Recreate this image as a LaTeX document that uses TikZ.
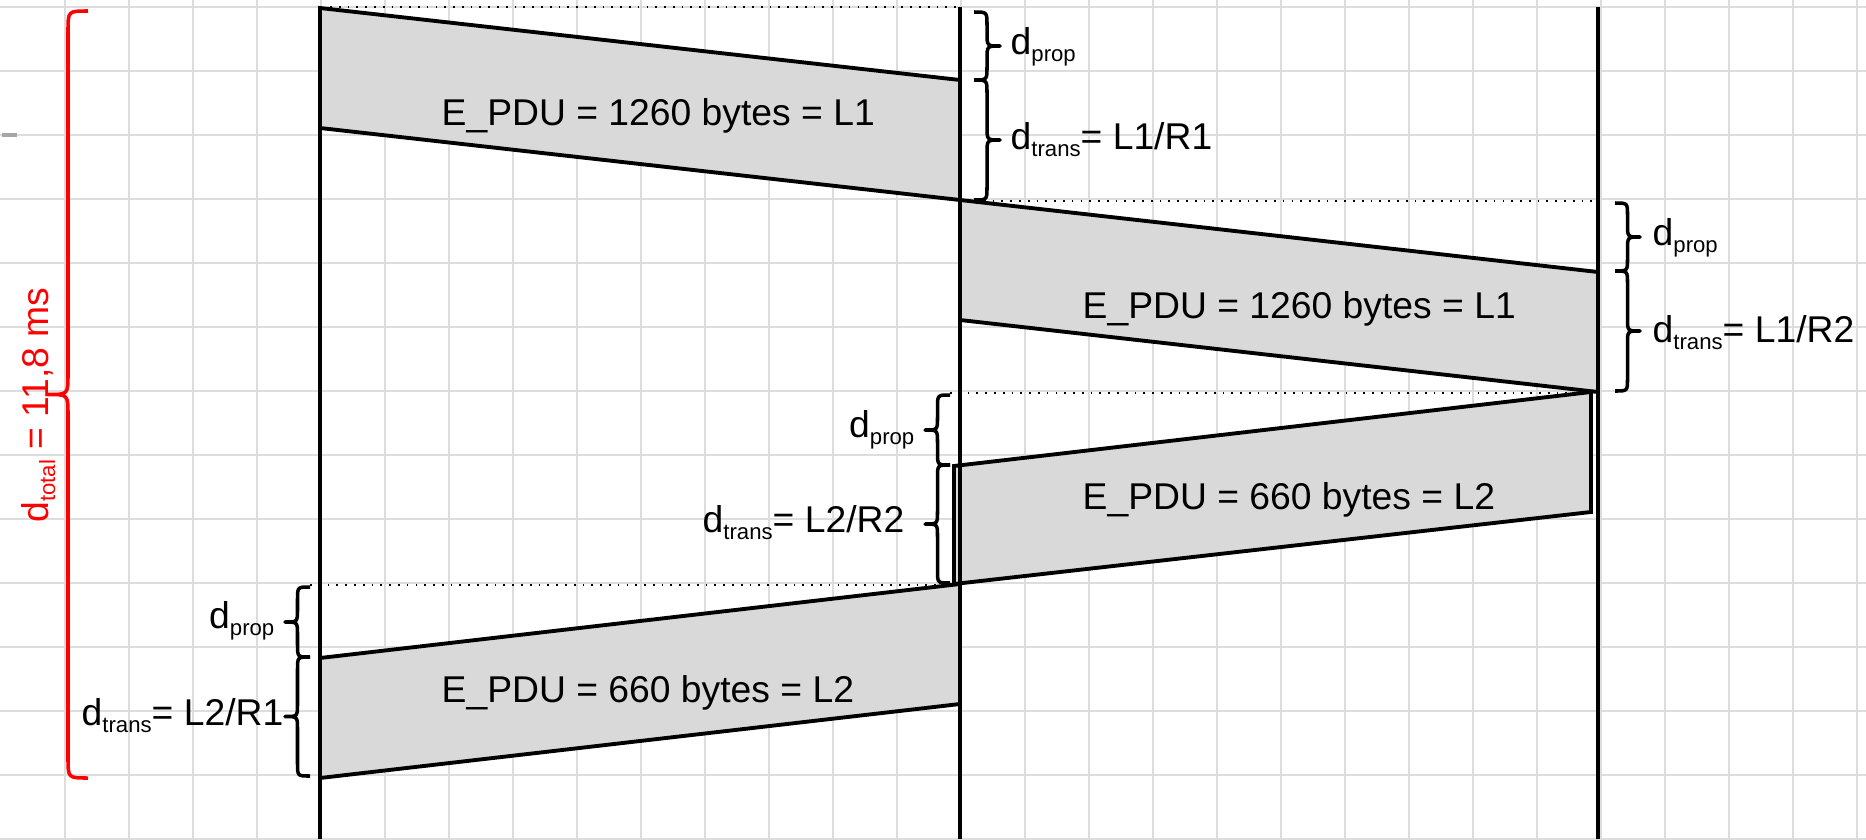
\documentclass[tikz,border=0pt]{standalone}
\usepackage{fontspec}
\setmainfont{Liberation Sans}
\usetikzlibrary{calc}
\definecolor{pdufill}{HTML}{D9D9D9}
\definecolor{gridc}{HTML}{DDDDDD}

% нижній індекс
\newcommand{\dsub}[1]{\raisebox{-2pt}{\fontsize{6.3}{7}\selectfont #1}}
% фігурна дужка: x кінців, ширина (знак = напрям), y1, y2
\newcommand{\dujka}[5][]{%
  \pgfmathsetmacro{\rr}{abs(#3)/2}%
  \pgfmathsetmacro{\xr}{#2+#3/2}%
  \pgfmathsetmacro{\xt}{#2+#3}%
  \pgfmathsetmacro{\ym}{(#4+#5)/2}%
  \draw[brc,#1] (#2,#4) .. controls (\xr,#4) .. (\xr,#4+\rr) -- (\xr,\ym-\rr)
    .. controls (\xr,\ym) .. (\xt,\ym) .. controls (\xr,\ym) .. (\xr,\ym+\rr)
    -- (\xr,#5-\rr) .. controls (\xr,#5) .. (#2,#5);%
}

\begin{document}
\begin{tikzpicture}[x=0.01cm, y=-0.01cm,
    every node/.style={inner sep=0pt, font=\fontsize{10.6}{12}\selectfont},
    brc/.style={line width=1pt, line join=round},
    lin/.style={line width=1.1pt}]
        \useasboundingbox (0,0) rectangle (1866,839);

        % Сітка
        \foreach \x in {65,129,...,1857} \draw[gridc, line width=0.6pt] (\x,0) -- (\x,839);
        \foreach \y in {7,71,...,839} \draw[gridc, line width=0.6pt] (0,\y) -- (1866,\y);
        \draw[black!35, line width=1.4pt] (2,135) -- (17,135);

        % Три лінії часу
        \coordinate (A) at (320,7);
        \coordinate (B) at (960,7);
        \coordinate (C) at (1598,7);

        % Кадри
        \filldraw[lin, fill=pdufill] (320,8) -- (960,80) -- (960,200) -- (320,128) -- cycle;
        \filldraw[lin, fill=pdufill] (960,200) -- (1598,272) -- (1598,392) -- (960,320) -- cycle;
        \filldraw[lin, fill=pdufill] (1591,392) -- (954,466) -- (954,584) -- (1591,512) -- cycle;
        \filldraw[lin, fill=pdufill] (960,584) -- (960,704) -- (320,778) -- (320,658) -- cycle;

        \draw[lin] (A) -- (A |- 0,839);
        \draw[lin] (B) -- (B |- 0,839);
        \draw[lin] (C) -- (C |- 0,839);

        % Пунктир
        \draw[dotted, line width=0.5pt] (330,7) -- (960,7);
        \draw[dotted, line width=0.5pt] (975,201) -- (1598,201);
        \draw[dotted, line width=0.5pt] (950,393) -- (1591,393);
        \draw[dotted, line width=0.5pt] (310,585) -- (954,585);

        % Дужки
        \dujka{974}{26}{12}{80}
        \dujka{974}{26}{80}{200}
        \dujka{1615}{25}{203}{271}
        \dujka{1615}{25}{271}{391}
        \dujka{950}{-25}{395}{465}
        \dujka{950}{-25}{465}{583}
        \dujka{310}{-25}{587}{657}
        \dujka{310}{-25}{657}{776}
        \dujka[red]{88}{-40}{11}{778}

        % Підписи
        \node[anchor=base west] (e1) at (441,125) {E\_PDU = 1260 bytes = L1};
        \node[anchor=base west] (e2) at (1082,318) {E\_PDU = 1260 bytes = L1};
        \node[anchor=base west] (e3) at (1082,509) {E\_PDU = 660 bytes = L2};
        \node[anchor=base west] (e4) at (441,702) {E\_PDU = 660 bytes = L2};

        \node[anchor=base west] (prop1) at (1010,54) {d\dsub{prop}};
        \node[anchor=base west] (trans1) at (1010,149) {d\dsub{trans}= L1/R1};
        \node[anchor=base west] (prop2) at (1652,245) {d\dsub{prop}};
        \node[anchor=base west] (trans2) at (1652,342) {d\dsub{trans}= L1/R2};
        \node[anchor=base east] (prop3) at (915,437) {d\dsub{prop}};
        \node[anchor=base east] (trans3) at (905,532) {d\dsub{trans}= L2/R2};
        \node[anchor=base east] (prop4) at (275,628) {d\dsub{prop}};
        \node[anchor=base east] (trans4) at (284,725) {d\dsub{trans}= L2/R1};

        \node[red, rotate=90, anchor=base] (total) at (48,405) {d\dsub{total} = 11,8 ms};
    \end{tikzpicture}
\end{document}
